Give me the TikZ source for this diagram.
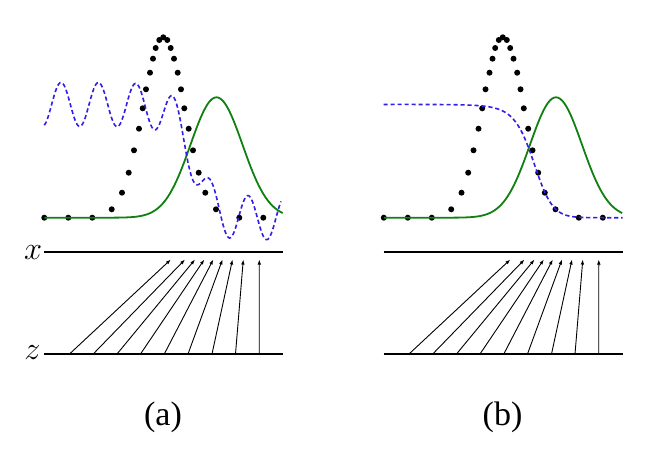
\documentclass[tikz,border=0pt]{standalone}
\usepackage{fontspec}
\setmainfont{Liberation Serif}
\usetikzlibrary{arrows.meta}

\definecolor{gdgreen}{RGB}{16,128,16}
\definecolor{dblue}{RGB}{50,30,230}

%% discriminator output, panel coordinates
\pgfmathdeclarefunction{dlogit}{1}{%
\pgfmathparse{0.67-0.5*((#1-163.3)/21)*((#1-163.3)/21)+0.5*((#1-216.5)/26)*((#1-216.5)/26)}%
}
\pgfmathdeclarefunction{dout}{1}{%
\pgfmathparse{exp(dlogit(#1))}%
\pgfmathparse{\pgfmathresult/(1+\pgfmathresult)}%
}

\begin{document}
\begin{tikzpicture}[x=1pt,y=-1pt,
axis/.style={%
line width=2.6pt
},
map/.style={%
-{Latex[length=5pt,width=3.6pt]},
line width=0.9pt
},
gen/.style={%
line width=1.8pt,
color=gdgreen
},
disc/.style={%
line width=1.6pt,
color=dblue,
dash pattern=on 4.2pt off 2.8pt
},
lab/.style={%
inner sep=0pt,
font=\Huge,
scale=1.3
},
panelcap/.style={%
inner sep=0pt,
font=\fontsize{34}{40}\selectfont
},
]
\useasboundingbox (0,0) rectangle (656,450);
%% Labels
\node[lab] (xlab) at (33,252.5) {$x$};
\node[lab] (zlab) at (32.5,353) {$z$};
\node[panelcap] (capa) at (163,417) {(a)};
\node[panelcap] (capb) at (502.5,417) {(b)};
\foreach \s/\p in {0/a,339.5/b}{%
\begin{scope}[xshift=\s]
%% Domains
\draw[axis] (44,252)--(283,252);
\draw[axis] (44,354)--(283,354);
%% Mapping z -> x
\foreach \zx/\xx [count=\i] in {69.5/170.8,93.2/185,117/195,140.5/204.3,164.3/213.3,188/222.5,212/232.5,235.5/243.3,259.2/259.3}{%
\coordinate (z\p\i) at (\zx,354);
\coordinate (x\p\i) at (\xx,259.5);
\draw[map] (z\p\i)--(x\p\i);
}
%% Data distribution
\foreach \dx/\dy in {44.3/217.7,68.3/217.7,92.3/217.7,111.7/209.3,122/192.7,128.7/172.7,134/150.3,139/128.7,142.7/108.3,146/89.3,150/72.7,153/58.7,155.7/48,159.3/40,163.3/37.3,167.3/40,170.7/48,174/58.7,177.7/72.7,181/89.3,184.3/108.3,188.7/128.7,193/150.3,198.7/172.7,205.3/192.7,216/209.3,239.3/217.7,263.3/217.7}{%
\fill (\dx,\dy) circle (3pt);
}
%% Generative distribution
\draw[gen] plot[domain=44.3:282.7,samples=120] (\x,{217.7-120.4*exp(-0.5*((\x-216.5)/26)*((\x-216.5)/26))});
\end{scope}
}
%% Discriminator
\draw[disc] plot[domain=44.3:281,samples=240] (\x,{217.7-113.4*dout(\x)-22*cos(9.6257*(\x-61))});
\begin{scope}[xshift=339.5]
\draw[disc] plot[domain=44:283,samples=150] (\x,{217.7-113.4*dout(\x)});
\end{scope}
\end{tikzpicture}
\end{document}
